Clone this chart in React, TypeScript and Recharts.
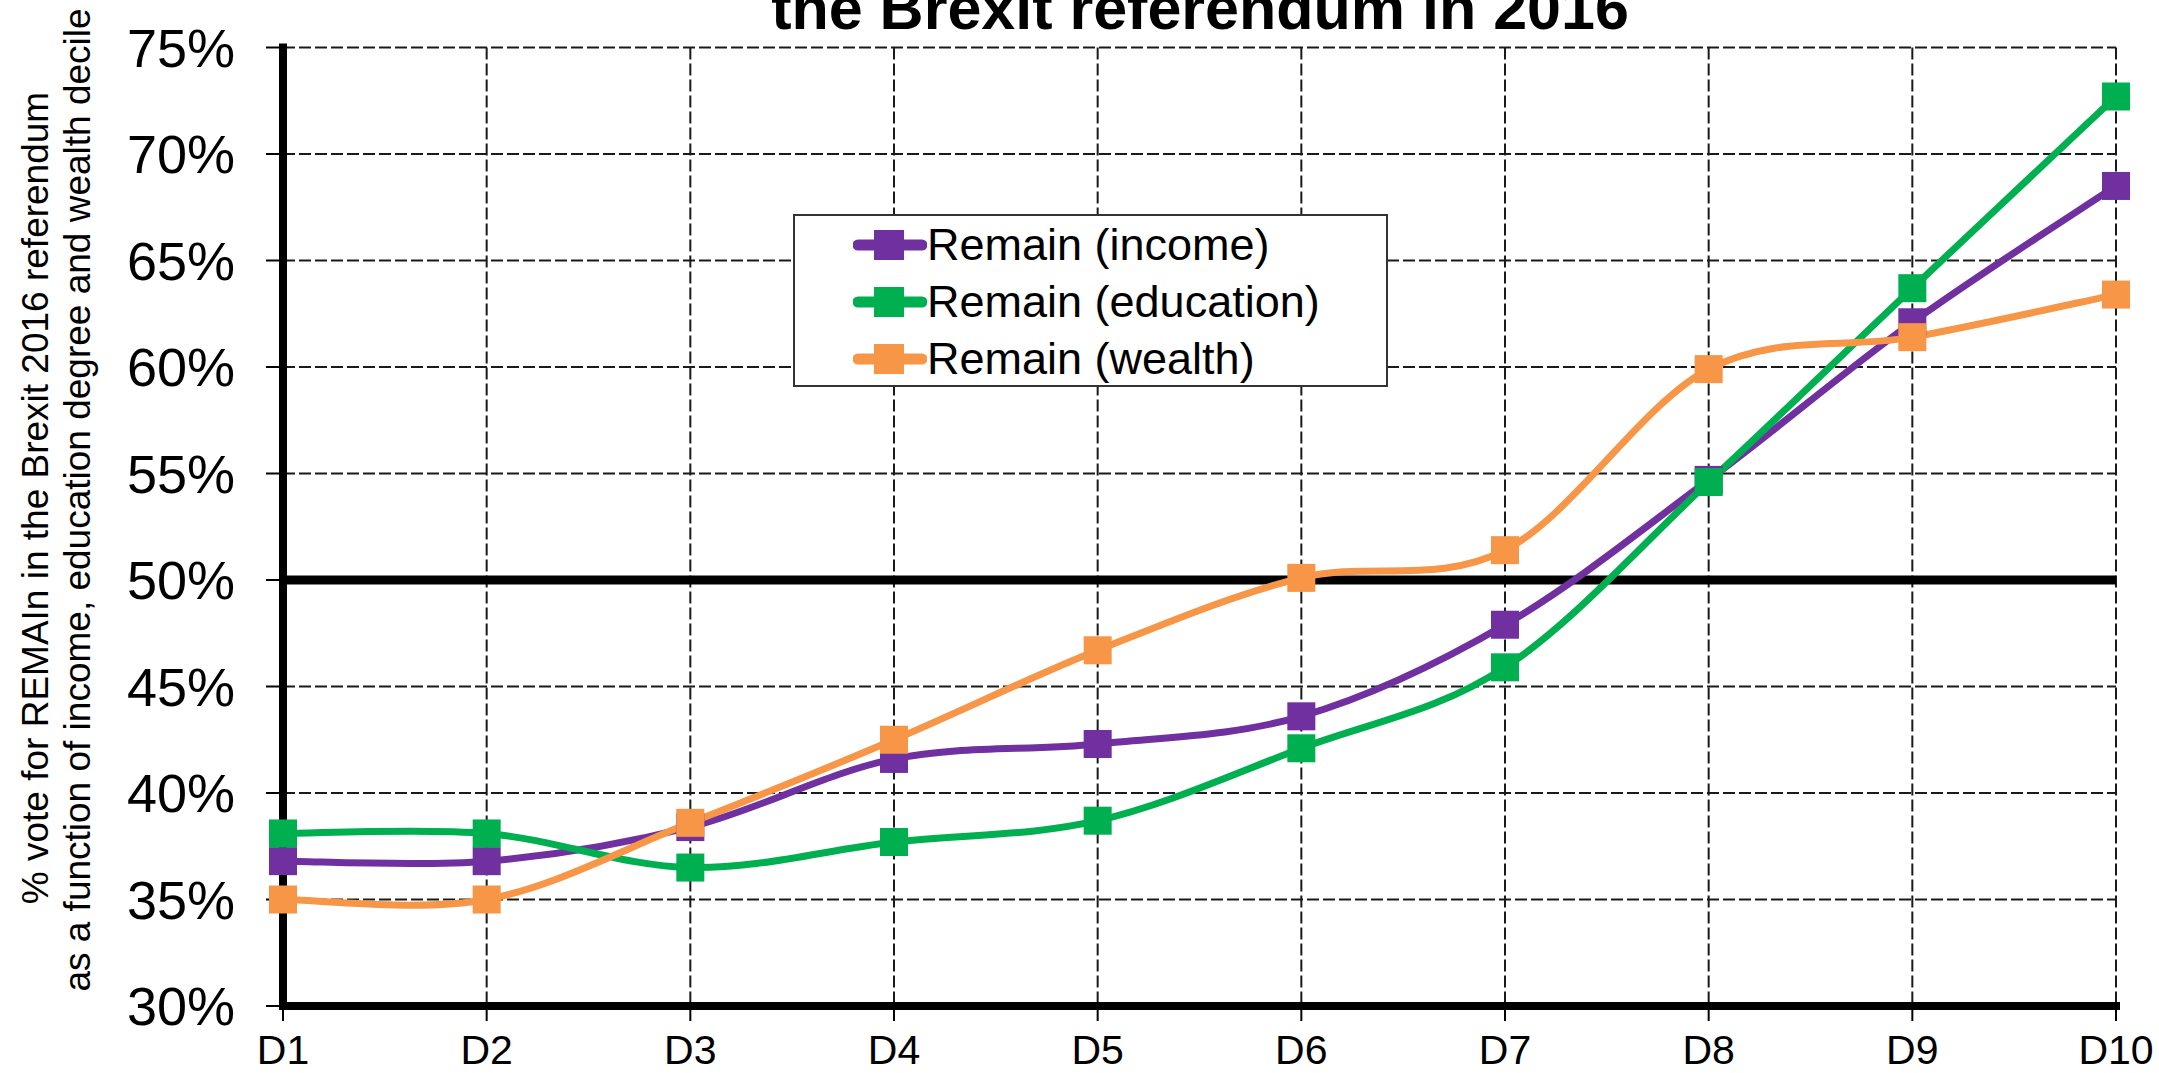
import {
  CartesianGrid,
  Legend,
  Line,
  LineChart,
  ReferenceLine,
  XAxis,
  YAxis,
} from "recharts";

const categories = ["D1", "D2", "D3", "D4", "D5", "D6", "D7", "D8", "D9", "D10"];
const incomeValues = [36.8, 36.8, 38.4, 41.6, 42.3, 43.6, 47.9, 54.7, 62.1, 68.5];
const educationValues = [38.1, 38.1, 36.5, 37.7, 38.7, 42.1, 45.9, 54.6, 63.7, 72.7];
const wealthValues = [35.0, 35.0, 38.6, 42.5, 46.7, 50.1, 51.4, 59.9, 61.4, 63.4];
const yTicks = [30, 35, 40, 45, 50, 55, 60, 65, 70, 75];

const seriesList = [
  { key: "income", name: "Remain (income)", color: "#7030A0" },
  { key: "education", name: "Remain (education)", color: "#00B050" },
  { key: "wealth", name: "Remain (wealth)", color: "#F79646" },
];

const data = categories.map((name, i) => ({
  name,
  income: incomeValues[i],
  education: educationValues[i],
  wealth: wealthValues[i],
}));

const FONT = '"Liberation Sans", Arial, sans-serif';

// Excel-like smoothed line (Catmull-Rom through every point)
const smoothCurve = (context: any) => {
  let pts: number[][] = [];
  return {
    areaStart() {},
    areaEnd() {},
    lineStart() {
      pts = [];
    },
    point(x: number, y: number) {
      pts.push([+x, +y]);
    },
    lineEnd() {
      if (!pts.length) return;
      context.moveTo(pts[0][0], pts[0][1]);
      for (let i = 0; i < pts.length - 1; i++) {
        const p0 = pts[i - 1] || pts[i];
        const p1 = pts[i];
        const p2 = pts[i + 1];
        const p3 = pts[i + 2] || p2;
        context.bezierCurveTo(
          p1[0] + (p2[0] - p0[0]) / 6,
          p1[1] + (p2[1] - p0[1]) / 6,
          p2[0] - (p3[0] - p1[0]) / 6,
          p2[1] - (p3[1] - p1[1]) / 6,
          p2[0],
          p2[1]
        );
      }
    },
  };
};

const squareDot = (color: string) => (props: any) => {
  const { cx, cy, index } = props;
  if (cx == null || cy == null) return <g key={index} />;
  return <rect key={index} x={cx - 14} y={cy - 14} width={28} height={28} fill={color} />;
};

const LegendBox = () => (
  <div
    style={{
      boxSizing: "border-box",
      width: 595,
      height: 173,
      border: "2px solid #333",
      background: "#fff",
      paddingLeft: 58,
      fontFamily: FONT,
      fontSize: 45,
      color: "#000",
    }}
  >
    {seriesList.map((s) => (
      <div key={s.key} style={{ display: "flex", alignItems: "center", height: 57 }}>
        <svg width={74} height={30} style={{ flex: "none" }}>
          <line x1={5} y1={15} x2={69} y2={15} stroke={s.color} strokeWidth={11} strokeLinecap="round" />
          <rect x={21} y={0} width={30} height={30} fill={s.color} />
        </svg>
        <span style={{ lineHeight: 1, whiteSpace: "nowrap" }}>{s.name}</span>
      </div>
    ))}
  </div>
);

const borderLine = { stroke: "#000", strokeWidth: 8, strokeLinecap: "square" as const };

export default function App() {
  return (
    <div style={{ position: "absolute", left: 0, top: 0, width: 2159, height: 1073, background: "#fff" }}>
      <LineChart
        width={2159}
        height={1073}
        data={data}
        margin={{ top: 47.5, right: 43, bottom: 0, left: 0 }}
      >
        <CartesianGrid stroke="#1a1a1a" strokeWidth={2} strokeDasharray="12 4" />
        <XAxis
          dataKey="name"
          scale="point"
          padding={{ left: 0, right: 0 }}
          height={67}
          axisLine={borderLine}
          tickLine={{ stroke: "#000", strokeWidth: 2 }}
          tickSize={15}
          tickMargin={14}
          tick={{ fill: "#000", fontSize: 41, fontFamily: FONT }}
          interval={0}
        />
        <XAxis
          xAxisId="top"
          orientation="top"
          dataKey="name"
          scale="point"
          padding={{ left: 0, right: 0 }}
          height={0}
          axisLine={borderLine}
          tick={false}
          tickLine={false}
        />
        <YAxis
          domain={[30, 75]}
          ticks={yTicks}
          width={283}
          axisLine={borderLine}
          tickLine={{ stroke: "#000", strokeWidth: 2 }}
          tickSize={17}
          tickMargin={31}
          tickFormatter={(v) => `${v}%`}
          tick={{ fill: "#000", fontSize: 54, fontFamily: FONT }}
          interval={0}
        />
        <YAxis
          yAxisId="right"
          orientation="right"
          domain={[30, 75]}
          ticks={yTicks}
          width={0}
          axisLine={borderLine}
          tick={false}
          tickLine={false}
        />
        <ReferenceLine y={50} stroke="#000" strokeWidth={9} />
        <Legend
          layout="vertical"
          align="center"
          verticalAlign="middle"
          wrapperStyle={{ left: 793, top: 214, width: 595, height: 173 }}
          content={() => <LegendBox />}
        />
        {seriesList.map((s) => (
          <Line
            key={s.key}
            dataKey={s.key}
            name={s.name}
            type={smoothCurve as any}
            stroke={s.color}
            strokeWidth={7}
            dot={squareDot(s.color)}
            activeDot={false}
            isAnimationActive={false}
          />
        ))}
      </LineChart>
      <svg
        width={2159}
        height={1073}
        style={{ position: "absolute", left: 0, top: 0, pointerEvents: "none" }}
      >
        <text x={1200} y={29} textAnchor="middle" fontFamily={FONT} fontWeight="bold" fontSize={61} fill="#000">
          the Brexit referendum in 2016
        </text>
        <text
          x={48}
          y={498}
          transform="rotate(-90 48 498)"
          textAnchor="middle"
          fontFamily={FONT}
          fontSize={37}
          fill="#000"
        >
          % vote for REMAIn in the Brexit 2016 referendum
        </text>
        <text
          x={90}
          y={500}
          transform="rotate(-90 90 500)"
          textAnchor="middle"
          fontFamily={FONT}
          fontSize={37}
          fill="#000"
        >
          as a function of income, education degree and wealth decile
        </text>
      </svg>
    </div>
  );
}
